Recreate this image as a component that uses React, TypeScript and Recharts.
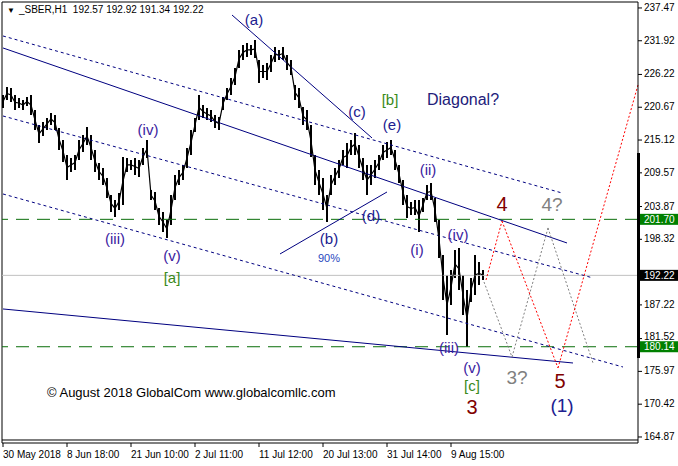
import { ComposedChart, Bar, Line, XAxis, YAxis, ReferenceLine, ReferenceDot } from "recharts"

// SBER H1, price range per bar group (every 4 bars)
const highs = [
  222.75, 224.1, 223.93, 222.75, 222.24, 221.9, 222.41, 222.75, 220.21, 217.67,
  218.18, 218.85, 219.7, 219.36, 217.16, 215.13, 212.59, 212.08, 212.59, 215.13,
  215.98, 217.33, 215.98, 213.44, 211.24, 210.39, 208.7, 205.82, 204.98, 206.16,
  212.25, 212.08, 211.75, 212.08, 211.75, 213.78, 215.13, 206.67, 206.33, 203.62,
  202.95, 201.59, 205.82, 209.21, 210.05, 210.9, 213.78, 216.82, 218.85, 222.75,
  221.05, 220.55, 220.21, 219.36, 219.02, 222.41, 223.93, 225.62, 227.31, 230.36,
  231.21, 231.55, 231.21, 232.05, 228.67, 227.82, 228.16, 229.52, 230.87, 230.36,
  230.87, 229.52, 228.67, 224.44, 223.93, 220.71, 220.21, 217.67, 212.59, 210.05,
  208.7, 205.82, 209.21, 210.39, 211.75, 213.44, 214.62, 215.13, 216.32, 214.28,
  212.08, 210.9, 210.9, 211.75, 212.59, 214.28, 214.79, 215.13, 213.44, 210.9,
  208.36, 205.82, 204.64, 204.98, 204.98, 205.31, 207.51, 207.85, 205.31, 201.59,
  195.67, 192.29, 193.13, 196.52, 196.85, 192.29, 189.75, 191.78, 195.67, 194.49, 193.13,
]
const lows = [
  220.55, 221.9, 221.56, 220.21, 220.55, 220.21, 220.88, 219.36, 216.82, 214.62,
  215.81, 216.82, 217.67, 216.82, 213.44, 211.41, 208.36, 209.72, 210.05, 211.75,
  213.1, 214.28, 211.75, 209.72, 208.36, 207.51, 205.31, 202.95, 202.1, 203.29,
  204.13, 209.72, 210.05, 209.21, 208.87, 210.9, 212.08, 204.98, 203.29, 200.75,
  199.56, 198.54, 200.75, 204.98, 207.51, 208.36, 210.39, 212.59, 216.49, 218.52,
  218.85, 218.52, 218.18, 217.16, 216.82, 220.21, 221.9, 222.75, 224.44, 227.31,
  228.67, 229.18, 229.52, 229.01, 224.78, 225.62, 225.28, 226.64, 228.33, 228.67,
  228.67, 226.98, 226.13, 221.9, 220.55, 217.67, 216.82, 212.25, 207.51, 205.82,
  203.29, 201.25, 205.82, 207.51, 208.7, 210.9, 210.39, 212.59, 212.59, 210.39,
  208.36, 205.82, 207.51, 208.7, 210.05, 211.75, 212.08, 212.59, 210.05, 207.85,
  204.13, 201.93, 202.44, 202.44, 199.56, 202.95, 204.98, 204.98, 201.25, 195.16,
  188.06, 182.14, 187.21, 191.78, 189.75, 185.51, 180.14, 187.72, 188.9, 190.59, 191.44,
]

const timeTicks = [0, 64, 128, 192, 256, 320, 384, 448]
const timeLabels = ["30 May 2018", "8 Jun 18:00", "21 Jun 10:00", "2 Jul 11:00", "11 Jul 12:00", "20 Jul 13:00", "31 Jul 14:00", "9 Aug 15:00"]

const priceTicks = [237.47, 231.92, 226.22, 220.67, 215.12, 209.57, 203.87, 198.32, 187.22, 181.52, 175.97, 170.42, 164.87]
const levelPrices = [201.7, 180.14]
const lastPrice = 192.22

// trend lines: [t1, p1, t2, p2]
const channelLines = [
  { id: "mid", pts: [0, 230.7, 564, 197.7], dash: undefined },
  { id: "upper", pts: [0, 232.73, 559, 206.16], dash: "3 3" },
  { id: "lower", pts: [0, 219.19, 590, 191.78], dash: "3 3" },
  { id: "lowest", pts: [0, 205.99, 620, 176.71], dash: "3 3" },
  { id: "base", pts: [0, 186.53, 570, 177.39], dash: undefined },
  { id: "ac", pts: [229, 236.28, 369, 215.47], dash: undefined },
  { id: "bd", pts: [277, 195.84, 384, 206.33], dash: undefined },
]

// projected paths
const redPathT = [483, 499, 555, 635]
const redPathP = [191.44, 201.4, 176.55, 224.44]
const grayPathT = [481, 509, 545, 590]
const grayPathP = [191.1, 178.4, 200.24, 177.39]

const waveLabels = [
  { text: "(a)", t: 251, p: 235.6, kind: "navy" },
  { text: "(c)", t: 354, p: 219.87, kind: "navy" },
  { text: "[b]", t: 387, p: 221.9, kind: "green" },
  { text: "(e)", t: 389, p: 217.67, kind: "navy" },
  { text: "Diagonal?", t: 460, p: 221.9, kind: "title" },
  { text: "(iv)", t: 145, p: 216.82, kind: "roman" },
  { text: "(iii)", t: 112, p: 198.54, kind: "roman" },
  { text: "(v)", t: 169, p: 195.5, kind: "roman" },
  { text: "[a]", t: 169, p: 191.78, kind: "green" },
  { text: "(b)", t: 326, p: 198.38, kind: "navy" },
  { text: "90%", t: 326, p: 195.16, kind: "small" },
  { text: "(d)", t: 368, p: 202.27, kind: "navy" },
  { text: "(ii)", t: 425, p: 210.05, kind: "roman" },
  { text: "(i)", t: 414, p: 196.52, kind: "roman" },
  { text: "(iv)", t: 455, p: 199.05, kind: "roman" },
  { text: "(iii)", t: 446, p: 179.93, kind: "roman" },
  { text: "(v)", t: 469, p: 176.7, kind: "roman" },
  { text: "[c]", t: 469, p: 173.5, kind: "green" },
  { text: "3", t: 469, p: 169.86, kind: "red" },
  { text: "4", t: 499, p: 204.3, kind: "red" },
  { text: "4?", t: 549, p: 204.13, kind: "gray" },
  { text: "3?", t: 514, p: 174.85, kind: "gray" },
  { text: "5", t: 557, p: 174.35, kind: "red" },
  { text: "(1)", t: 559, p: 170.28, kind: "big" },
]

const labelStyle: Record<string, { color: string; size: number }> = {
  navy: { color: "#202090", size: 15 },
  roman: { color: "#3a22a0", size: 15 },
  green: { color: "#3a8a1a", size: 15 },
  title: { color: "#22207a", size: 16 },
  small: { color: "#2848c0", size: 11 },
  red: { color: "#800000", size: 20 },
  gray: { color: "#808080", size: 19 },
  big: { color: "#202090", size: 19 },
}

const FONT = "'Liberation Sans', Arial, sans-serif"

const data = highs.map((h, i) => ({ t: i * 4, range: [lows[i], h], mid: (lows[i] + h) / 2 }))

const XTick = (props: any) => {
  const { x, y, payload } = props
  const i = timeTicks.indexOf(payload.value)
  return (
    <text x={x} y={y} dy="0.71em" textAnchor="start" fontSize={10} fontFamily={FONT} fill="#000">
      {timeLabels[i]}
    </text>
  )
}

const YTick = (props: any) => {
  const { x, y, payload } = props
  const v = payload.value
  const isLevel = levelPrices.includes(v)
  const isLast = v === lastPrice
  if (isLevel || isLast) {
    return (
      <g>
        <rect x={639} y={y - 5.5} width={39} height={11} fill={isLast ? "#000" : "#008000"} />
        <text x={x} y={y} dy="0.35em" fontSize={10} fontFamily={FONT} fill="#fff">
          {v.toFixed(2)}
        </text>
      </g>
    )
  }
  // a tick sitting just above a highlighted level is lifted a little, as on the terminal
  const nearLevel = levelPrices.some((l) => v > l && v - l < 2)
  return (
    <text x={x} y={y} dy={nearLevel ? "0.1em" : "0.3em"} fontSize={10} fontFamily={FONT} fill="#000">
      {v.toFixed(2)}
    </text>
  )
}

function segments(ts: number[], ps: number[]) {
  const out = []
  for (let i = 0; i < ts.length - 1; i++) {
    out.push([{ x: ts[i], y: ps[i] }, { x: ts[i + 1], y: ps[i + 1] }])
  }
  return out
}

export default function App() {
  return (
    <div style={{ position: "absolute", left: 0, top: 0, width: 678, height: 466, background: "#fff", fontFamily: FONT }}>
      <ComposedChart width={678} height={466} data={data} margin={{ top: 2, right: 0, bottom: 0, left: 2 }}>
        <XAxis
          dataKey="t"
          type="number"
          domain={[-1, 635]}
          allowDataOverflow
          ticks={timeTicks}
          interval={0}
          tick={<XTick />}
          tickSize={4}
          tickMargin={4}
          height={23}
          axisLine={{ stroke: "#000" }}
          tickLine={{ stroke: "#000" }}
        />
        <YAxis
          orientation="right"
          type="number"
          domain={[163.85, 238.48]}
          allowDataOverflow
          ticks={[...priceTicks, ...levelPrices, lastPrice]}
          interval={0}
          tick={<YTick />}
          tickSize={4}
          tickMargin={2}
          width={40}
          axisLine={{ stroke: "#000" }}
          tickLine={{ stroke: "#000" }}
        />
        <ReferenceLine y={238.48} stroke="#000" />
        <ReferenceLine x={-1} stroke="#000" />
        <ReferenceLine y={164.36} stroke="#000" />
        <ReferenceLine y={lastPrice} stroke="#c0c0c0" />
        {levelPrices.map((p) => (
          <ReferenceLine key={p} y={p} stroke="#0a6e0a" strokeDasharray="13 8" />
        ))}
        {channelLines.map((l) => (
          <ReferenceLine
            key={l.id}
            segment={[{ x: l.pts[0], y: l.pts[1] }, { x: l.pts[2], y: l.pts[3] }]}
            stroke="#000080"
            strokeDasharray={l.dash}
          />
        ))}
        {segments(grayPathT, grayPathP).map((s, i) => (
          <ReferenceLine key={"g" + i} segment={s} stroke="#808080" strokeDasharray="2 2" />
        ))}
        {segments(redPathT, redPathP).map((s, i) => (
          <ReferenceLine key={"r" + i} segment={s} stroke="#ff0000" strokeDasharray="2 2" />
        ))}
        <Bar dataKey="range" fill="#000" barSize={2} isAnimationActive={false} />
        <Line dataKey="mid" stroke="#000" strokeWidth={1.2} dot={false} isAnimationActive={false} />
        {waveLabels.map((w, i) => {
          const st = labelStyle[w.kind]
          return (
            <ReferenceDot
              key={i}
              x={w.t}
              y={w.p}
              r={0}
              shape={(p: any) => (
                <text
                  x={p.cx}
                  y={p.cy}
                  textAnchor="middle"
                  dominantBaseline="central"
                  fill={st.color}
                  fontSize={st.size}
                  fontFamily={FONT}
                >
                  {w.text}
                </text>
              )}
            />
          )
        })}
      </ComposedChart>
      <div style={{ position: "absolute", left: 637, top: 153, width: 3, height: 205, background: "#000" }} />
      <div style={{ position: "absolute", left: 7, top: 4, fontSize: 10, lineHeight: "12px", whiteSpace: "nowrap", color: "#000" }}>
        <span style={{ fontSize: 8, marginRight: 4 }}>▼</span>_SBER,H1&nbsp; 192.57 192.92 191.34 192.22
      </div>
      <div style={{ position: "absolute", left: 47, top: 385, fontSize: 13, lineHeight: "16px", whiteSpace: "nowrap", color: "#000" }}>
        © August 2018 GlobalCom www.globalcomllc.com
      </div>
    </div>
  )
}
